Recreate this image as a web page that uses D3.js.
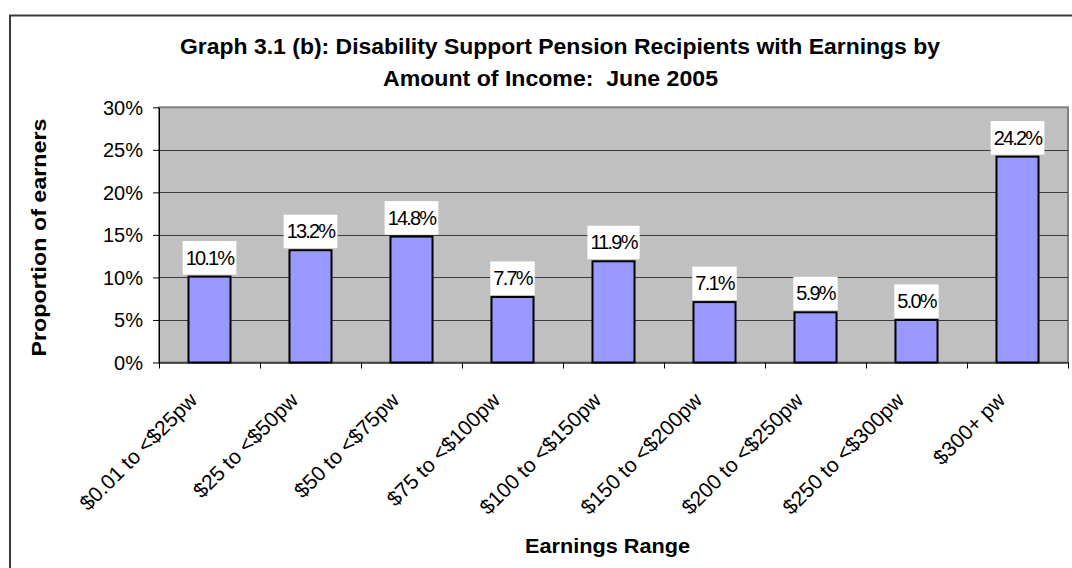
<!DOCTYPE html>
<html>
<head>
<meta charset="utf-8">
<script src="https://cdn.jsdelivr.net/npm/d3@7"></script>
<style>
  body { margin: 0; background: #fff; }
  text { font-family: Arial, "Liberation Sans", sans-serif; fill: #000; }
</style>
</head>
<body>
<div id="container"></div>
<script>
/* CONSTANTS AND GLOBALS */
const width = 1072,
  height = 568,
  plot = { left: 159, right: 1068, top: 107.3, bottom: 362.5 };

/* DATA */
const categories = ["$0.01 to <$25pw", "$25 to <$50pw", "$50 to <$75pw", "$75 to <$100pw",
  "$100 to <$150pw", "$150 to <$200pw", "$200 to <$250pw", "$250 to <$300pw", "$300+ pw"];
const values = [10.1, 13.2, 14.8, 7.7, 11.9, 7.1, 5.9, 5.0, 24.2];
const yTicks = [0, 5, 10, 15, 20, 25, 30];
const titleLines = ["Graph 3.1 (b): Disability Support Pension Recipients with Earnings by",
  "Amount of Income:  June 2005"];

const data = categories.map((c, i) => ({ cat: c, value: values[i] }));

/* SCALES */
const xScale = d3.scaleBand()
  .domain(categories)
  .range([plot.left, plot.right])
  .paddingInner(0.584)
  .paddingOuter(0.292);

// category boundaries for tick marks
const xEdge = d3.scaleLinear()
  .domain([0, categories.length])
  .range([plot.left, plot.right]);

const yScale = d3.scaleLinear()
  .domain([0, 30])
  .range([plot.bottom, plot.top]);

/* SVG */
const svg = d3.select("#container")
  .append("svg")
  .attr("width", width)
  .attr("height", height);

// chart frame (cropped at right and bottom)
svg.append("rect")
  .attr("x", 10).attr("y", 15.5)
  .attr("width", 1100).attr("height", 600)
  .attr("fill", "#fff")
  .attr("stroke", "#3a3a3a")
  .attr("stroke-width", 2);

// plot area
svg.append("rect")
  .attr("x", plot.left).attr("y", plot.top)
  .attr("width", plot.right - plot.left)
  .attr("height", plot.bottom - plot.top)
  .attr("fill", "#c0c0c0")
  .attr("stroke", "#808080")
  .attr("stroke-width", 2);

// gridlines
svg.append("g")
  .selectAll("line")
  .data(yTicks.filter(d => d > 0 && d < 30))
  .join("line")
  .attr("x1", plot.left).attr("x2", plot.right)
  .attr("y1", d => Math.round(yScale(d)) + 0.5)
  .attr("y2", d => Math.round(yScale(d)) + 0.5)
  .attr("stroke", "#3c3c3c")
  .attr("stroke-width", 1);

// bars
svg.append("g")
  .selectAll("rect")
  .data(data)
  .join("rect")
  .attr("x", d => xScale(d.cat))
  .attr("y", d => yScale(d.value))
  .attr("width", xScale.bandwidth())
  .attr("height", d => yScale(0) - yScale(d.value))
  .attr("fill", "#9999ff")
  .attr("stroke", "#000")
  .attr("stroke-width", 2);

// axes
const yAxis = d3.axisLeft(yScale)
  .tickValues(yTicks)
  .tickSize(6)
  .tickSizeOuter(0)
  .tickPadding(10)
  .tickFormat(d => d + "%");

svg.append("g")
  .attr("transform", `translate(${plot.left},0)`)
  .call(yAxis)
  .call(g => g.selectAll("text").style("font-size", "20px").attr("dy", "0.34em"))
  .call(g => g.selectAll("path, line").attr("stroke", "#000"));

const xAxis = d3.axisBottom(xEdge)
  .tickValues(d3.range(categories.length + 1))
  .tickSize(6)
  .tickSizeOuter(0)
  .tickFormat("");

svg.append("g")
  .attr("transform", `translate(0,${plot.bottom})`)
  .call(xAxis)
  .call(g => g.selectAll("path, line").attr("stroke", "#000"));

// category labels, rotated
svg.append("g")
  .selectAll("text")
  .data(categories)
  .join("text")
  .attr("transform", d => `translate(${xScale(d) + xScale.bandwidth() / 2 - 11},${plot.bottom + 39}) rotate(-45)`)
  .attr("text-anchor", "end")
  .style("font-size", "21px")
  .text(d => d);

// data labels with white boxes
const labels = svg.append("g")
  .selectAll("g")
  .data(data)
  .join("g")
  .attr("transform", d => `translate(${xScale(d.cat) + xScale.bandwidth() / 2},${yScale(d.value) - 2})`);

labels.append("rect").attr("fill", "#fff");
labels.append("text")
  .attr("text-anchor", "middle")
  .attr("y", -10)
  .style("font-size", "20px")
  .style("letter-spacing", "-1.8px")
  .text(d => d3.format(".1f")(d.value) + "%");

labels.each(function () {
  const g = d3.select(this);
  const w = g.select("text").node().getComputedTextLength() + 6;
  g.select("rect")
    .attr("x", -w / 2)
    .attr("y", -33.5)
    .attr("width", w)
    .attr("height", 33.5);
});

/* TITLES */
svg.append("text")
  .attr("x", 180).attr("y", 54)
  .attr("textLength", 760)
  .attr("lengthAdjust", "spacingAndGlyphs")
  .style("font-size", "22px")
  .style("font-weight", "bold")
  .text(titleLines[0]);

svg.append("text")
  .attr("x", 383).attr("y", 85.5)
  .attr("textLength", 335)
  .attr("lengthAdjust", "spacingAndGlyphs")
  .style("font-size", "22px")
  .style("font-weight", "bold")
  .style("white-space", "pre")
  .text(titleLines[1]);

svg.append("text")
  .attr("x", 525).attr("y", 553)
  .attr("textLength", 165)
  .attr("lengthAdjust", "spacingAndGlyphs")
  .style("font-size", "21px")
  .style("font-weight", "bold")
  .text("Earnings Range");

svg.append("text")
  .attr("transform", "translate(46,237.5) rotate(-90)")
  .attr("text-anchor", "middle")
  .attr("textLength", 238)
  .attr("lengthAdjust", "spacingAndGlyphs")
  .style("font-size", "20px")
  .style("font-weight", "bold")
  .text("Proportion of earners");
</script>
</body>
</html>
